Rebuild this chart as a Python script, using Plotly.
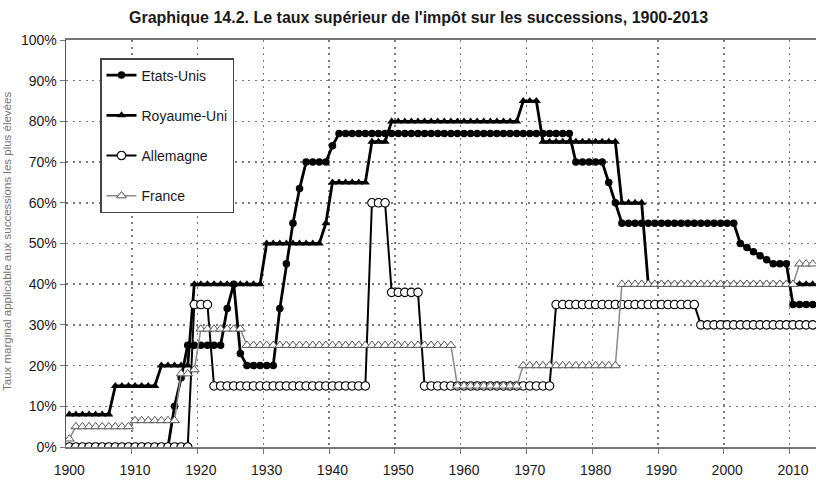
import plotly.graph_objects as go

years = list(range(1900, 2014))

etats_unis = [
    0, 0, 0, 0, 0, 0, 0, 0, 0, 0,
    0, 0, 0, 0, 0, 0, 10, 17, 25, 25,
    25, 25, 25, 25, 34, 40, 23, 20, 20, 20,
    20, 20, 34, 45, 55, 63.5, 70, 70, 70, 70,
    74, 77, 77, 77, 77, 77, 77, 77, 77, 77,
    77, 77, 77, 77, 77, 77, 77, 77, 77, 77,
    77, 77, 77, 77, 77, 77, 77, 77, 77, 77,
    77, 77, 77, 77, 77, 77, 77, 70, 70, 70,
    70, 70, 65, 60, 55, 55, 55, 55, 55, 55,
    55, 55, 55, 55, 55, 55, 55, 55, 55, 55,
    55, 55, 50, 49, 48, 47, 46, 45, 45, 45,
    35, 35, 35, 35,
]

royaume_uni = [
    8, 8, 8, 8, 8, 8, 8, 15, 15, 15,
    15, 15, 15, 15, 20, 20, 20, 20, 20, 40,
    40, 40, 40, 40, 40, 40, 40, 40, 40, 40,
    50, 50, 50, 50, 50, 50, 50, 50, 50, 55,
    65, 65, 65, 65, 65, 65, 75, 75, 75, 80,
    80, 80, 80, 80, 80, 80, 80, 80, 80, 80,
    80, 80, 80, 80, 80, 80, 80, 80, 80, 85,
    85, 85, 75, 75, 75, 75, 75, 75, 75, 75,
    75, 75, 75, 75, 60, 60, 60, 60, 40, 40,
    40, 40, 40, 40, 40, 40, 40, 40, 40, 40,
    40, 40, 40, 40, 40, 40, 40, 40, 40, 40,
    40, 40, 40, 40,
]

allemagne = [
    0, 0, 0, 0, 0, 0, 0, 0, 0, 0,
    0, 0, 0, 0, 0, 0, 0, 0, 0, 35,
    35, 35, 15, 15, 15, 15, 15, 15, 15, 15,
    15, 15, 15, 15, 15, 15, 15, 15, 15, 15,
    15, 15, 15, 15, 15, 15, 60, 60, 60, 38,
    38, 38, 38, 38, 15, 15, 15, 15, 15, 15,
    15, 15, 15, 15, 15, 15, 15, 15, 15, 15,
    15, 15, 15, 15, 35, 35, 35, 35, 35, 35,
    35, 35, 35, 35, 35, 35, 35, 35, 35, 35,
    35, 35, 35, 35, 35, 35, 30, 30, 30, 30,
    30, 30, 30, 30, 30, 30, 30, 30, 30, 30,
    30, 30, 30, 30,
]

france = [
    2, 5, 5, 5, 5, 5, 5, 5, 5, 5,
    6.5, 6.5, 6.5, 6.5, 6.5, 6.5, 6.5, 18, 18, 19,
    29, 29, 29, 29, 29, 29, 29, 25, 25, 25,
    25, 25, 25, 25, 25, 25, 25, 25, 25, 25,
    25, 25, 25, 25, 25, 25, 25, 25, 25, 25,
    25, 25, 25, 25, 25, 25, 25, 25, 25, 15,
    15, 15, 15, 15, 15, 15, 15, 15, 15, 20,
    20, 20, 20, 20, 20, 20, 20, 20, 20, 20,
    20, 20, 20, 20, 40, 40, 40, 40, 40, 40,
    40, 40, 40, 40, 40, 40, 40, 40, 40, 40,
    40, 40, 40, 40, 40, 40, 40, 40, 40, 40,
    40, 45, 45, 45,
]

series_names = ["Etats-Unis", "Royaume-Uni", "Allemagne", "France"]
x_labels = [1900, 1910, 1920, 1930, 1940, 1950, 1960, 1970, 1980, 1990, 2000, 2010]
y_ticks = [0, 10, 20, 30, 40, 50, 60, 70, 80, 90, 100]
y_ticklabels = ["0%", "10%", "20%", "30%", "40%", "50%", "60%", "70%", "80%", "90%", "100%"]

title_text = "Graphique 14.2. Le taux supérieur de l'impôt sur les successions, 1900-2013"
ylabel_text = "Taux marginal applicable aux successions les plus élevées"

FONT = "Liberation Sans, Arial, sans-serif"

fig = go.Figure()

fig.add_trace(go.Scatter(
    x=years, y=etats_unis, name=series_names[0], mode="lines+markers",
    line=dict(color="#000000", width=2.8),
    marker=dict(symbol="circle", size=7.5, color="#000000"),
    legendgroup="a",
))
fig.add_trace(go.Scatter(
    x=years, y=royaume_uni, name=series_names[1], mode="lines+markers",
    line=dict(color="#000000", width=2.8),
    marker=dict(symbol="triangle-up", size=8, color="#000000"),
    legendgroup="b",
))
fig.add_trace(go.Scatter(
    x=years, y=allemagne, name=series_names[2], mode="lines+markers",
    line=dict(color="#000000", width=2),
    marker=dict(symbol="circle", size=8.5, color="#ffffff",
                line=dict(color="#000000", width=1.1)),
    legendgroup="c",
))
fig.add_trace(go.Scatter(
    x=years, y=france, name=series_names[3], mode="lines+markers",
    line=dict(color="#8a8a8a", width=1.5),
    marker=dict(symbol="triangle-up", size=8.5, color="#ffffff",
                line=dict(color="#555555", width=1)),
    legendgroup="d",
))

L, R, T, B = 66, 0, 40, 33
W, H = 816, 480
pw = W - L - R
ph = H - T - B

def px_to_paper_x(px):
    return (px - L) / pw

def px_to_paper_y(py):
    return (H - B - py) / ph

fig.update_layout(
    width=W, height=H,
    margin=dict(l=L, r=R, t=T, b=B, pad=0),
    paper_bgcolor="#ffffff", plot_bgcolor="#ffffff",
    font=dict(family=FONT, size=14, color="#1a1a1a"),
    showlegend=True,
    legend=dict(
        x=px_to_paper_x(100), y=px_to_paper_y(58),
        xanchor="left", yanchor="top",
        bgcolor="#ffffff", bordercolor="#444444", borderwidth=1.5,
        font=dict(family=FONT, size=14, color="#1a1a1a"),
        tracegroupgap=19, itemwidth=30,
    ),
    xaxis=dict(
        range=[1899.5, 2013.5],
        tickmode="array", tickvals=x_labels, ticktext=[str(v) for v in x_labels],
        ticks="", showgrid=False, zeroline=False,
        showline=True, linecolor="#777777", linewidth=2, mirror=True,
        tickfont=dict(family=FONT, size=14, color="#1a1a1a"),
        ticklabelstandoff=9,
        minor=dict(
            tickmode="array",
            tickvals=[v - 0.5 for v in x_labels[1:]],
            ticks="outside", ticklen=5, tickcolor="#777777", tickwidth=1,
            showgrid=True, gridcolor="#7a7a7a", gridwidth=1.5, griddash="2px,4.5px",
        ),
        fixedrange=True,
    ),
    yaxis=dict(
        range=[0, 100],
        tickmode="array", tickvals=y_ticks, ticktext=y_ticklabels,
        ticks="outside", ticklen=5, tickcolor="#777777",
        showgrid=True, gridcolor="#7a7a7a", gridwidth=1.5, griddash="2px,4.5px",
        zeroline=False,
        showline=True, linecolor="#555555", linewidth=1.5,
        tickfont=dict(family=FONT, size=14, color="#1a1a1a"),
        fixedrange=True,
    ),
)

fig.add_annotation(
    text="<b>" + title_text + "</b>",
    xref="paper", yref="paper",
    x=px_to_paper_x(418), y=px_to_paper_y(17),
    xanchor="center", yanchor="middle", showarrow=False,
    font=dict(family=FONT, size=16, color="#1a1a1a"),
)

fig.add_annotation(
    text=ylabel_text,
    xref="paper", yref="paper",
    x=px_to_paper_x(7), y=px_to_paper_y(242),
    xanchor="center", yanchor="middle", showarrow=False, textangle=-90,
    font=dict(family=FONT, size=11.5, color="#777777"),
)

fig.write_html(
    "out.html",
    config={"displayModeBar": False, "staticPlot": True},
    post_script="document.body.style.margin='0';document.body.style.overflow='hidden';",
)
